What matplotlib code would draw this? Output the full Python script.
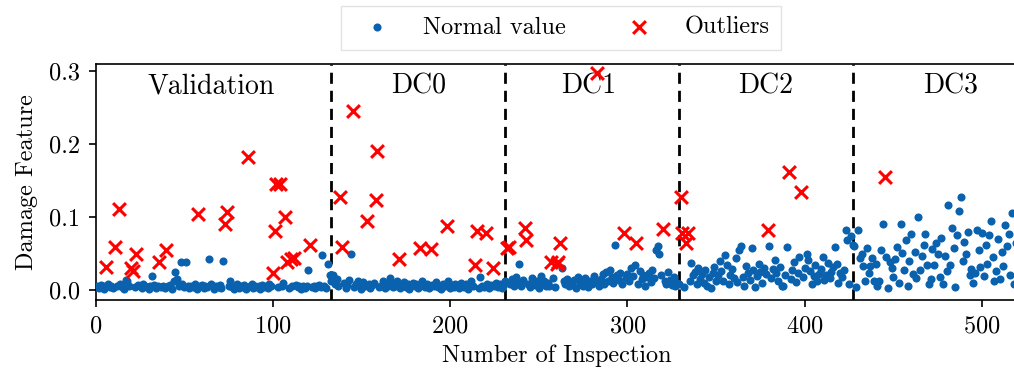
import matplotlib
matplotlib.use("Agg")
import matplotlib.pyplot as plt
import numpy as np

plt.rcParams["font.family"] = "serif"
plt.rcParams["font.serif"] = ["cmr10"]
plt.rcParams["mathtext.fontset"] = "cm"
plt.rcParams["axes.formatter.use_mathtext"] = True

# inspections 0..519, split into five damage cases
n_inspections = 520
case_bounds = [133, 231, 329, 427]
case_names = ["Validation", "DC0", "DC1", "DC2", "DC3"]
case_label_x = [65, 182, 278, 378, 482]

# flagged inspections
outlier_x = [6, 11, 13, 20, 21, 23, 36, 40, 58, 73, 74, 86, 100, 101, 102, 104, 107, 108, 110, 112, 121,
             138, 139, 145, 153, 158, 159, 171, 183, 189, 198, 214, 215, 220, 224,
             232, 233, 242, 243, 257, 260, 261, 262, 283, 298, 305, 320,
             330, 331, 333, 334, 379, 391, 398,
             445]
outlier_y = [0.031, 0.059, 0.111, 0.030, 0.026, 0.049, 0.038, 0.055, 0.104, 0.090, 0.107, 0.183, 0.023,
             0.081, 0.146, 0.146, 0.100, 0.038, 0.042, 0.044, 0.062,
             0.127, 0.059, 0.246, 0.095, 0.124, 0.191, 0.042, 0.058, 0.056, 0.088, 0.034, 0.081, 0.078, 0.030,
             0.057, 0.059, 0.085, 0.069, 0.039, 0.036, 0.039, 0.064, 0.297, 0.078, 0.064, 0.084,
             0.128, 0.078, 0.064, 0.078, 0.083, 0.162, 0.135,
             0.155]

# damage feature of the remaining inspections, in order
validation_vals = [
    .004, .006, .003, .007, .005, .002, .008, .004, .006, .003,
    .005, .009, .004, .002, .014, .012, .006, .004, .007, .005,
    .003, .008, .006, .004, .002, .005, .019, .007, .003, .006,
    .004, .006, .003, .005, .007, .002, .012, .025, .015, .006,
    .039, .008, .004, .039, .005, .003, .006, .004, .009, .002,
    .005, .007, .003, .006, .004, .043, .008, .005, .002, .006,
    .004, .007, .003, .040, .006, .012, .004, .002, .005, .008,
    .003, .006, .004, .007, .002, .005, .009, .003, .006, .004,
    .005, .002, .007, .004, .006, .003, .008, .005, .004, .006,
    .010, .003, .005, .007, .004, .006, .002, .005, .003, .006,
    .028, .004, .006, .003, .005, .007, .004, .048, .006, .003,
    .036, .020]
dc0_vals = [
    .012, .020, .008, .015, .005, .010, .003, .007, .014, .050,
    .004, .009, .013, .006, .002, .011, .005, .008, .003, .007,
    .010, .004, .006, .012, .003, .008, .005, .017, .009, .004,
    .006, .013, .003, .007, .011, .004, .009, .002, .006, .010,
    .005, .008, .003, .012, .006, .004, .009, .003, .007, .005,
    .011, .004, .006, .002, .008, .005, .013, .003, .007, .004,
    .009, .005, .003, .010, .006, .004, .008, .002, .007, .012,
    .005, .003, .018, .006, .004, .009, .003, .007, .005, .010,
    .004, .008, .003, .006]
dc1_vals = [
    .012, .008, .015, .005, .018, .010, .036, .006, .014, .009,
    .004, .016, .011, .007, .013, .003, .019, .008, .012, .005,
    .010, .006, .017, .004, .030, .012, .008, .015, .005, .011,
    .007, .014, .003, .018, .009, .012, .006, .016, .010, .004,
    .013, .008, .019, .011, .006, .015, .022, .009, .025, .012,
    .027, .018, .010, .062, .020, .014, .024, .008, .016, .022,
    .012, .030, .019, .034, .009, .026, .015, .021, .006, .018,
    .024, .011, .028, .016, .055, .060, .049, .020, .013, .008,
    .025, .014, .007, .018, .005, .010]
dc2_vals = [
    .009, .004, .012, .037, .020, .025, .008, .030, .015, .022,
    .010, .028, .005, .018, .003, .024, .032, .013, .020, .040,
    .026, .012, .048, .035, .009, .021, .029, .016, .044, .011,
    .055, .060, .018, .006, .033, .023, .014, .057, .027, .004,
    .019, .036, .025, .010, .030, .022, .061, .017, .029, .041,
    .024, .013, .032, .006, .005, .021, .059, .015, .027, .038,
    .011, .023, .046, .018, .030, .050, .041, .026, .008, .019,
    .034, .012, .022, .029, .045, .014, .020, .037, .016, .025,
    .031, .059, .036, .010, .023, .018, .027, .083, .068, .009,
    .074]
dc3_vals = [
    .062, .060, .004, .083, .044, .049, .033, .013, .057, .024,
    .033, .044, .012, .036, .005, .013, .055, .091, .046, .003,
    .038, .030, .018, .042, .059, .010, .090, .051, .027, .068,
    .005, .040, .077, .022, .052, .016, .100, .028, .047, .062,
    .077, .034, .009, .015, .056, .035, .064, .049, .018, .072,
    .008, .047, .026, .117, .034, .085, .057, .004, .075, .109,
    .128, .040, .066, .049, .080, .020, .029, .010, .024, .082,
    .055, .031, .078, .019, .062, .036, .076, .094, .045, .013,
    .026, .070, .015, .052, .033, .089, .060, .077, .021, .105,
    .009, .065]

normal_y = validation_vals + dc0_vals + dc1_vals + dc2_vals + dc3_vals
flagged = set(outlier_x)
normal_x = [i for i in range(n_inspections) if i not in flagged]

fig = plt.figure(figsize=(10.14, 3.77), dpi=100)
ax = fig.add_axes([0.0942, 0.204, 0.9093, 0.626])

ax.scatter(normal_x, normal_y, s=34, color="#0a62ae", label="Normal value", zorder=3, linewidths=0)
ax.scatter(outlier_x, outlier_y, s=85, marker="x", color="red", linewidths=2.2,
           label="Outliers", zorder=4)

for b in case_bounds:
    ax.axvline(b, color="black", linestyle=(0, (4, 2.5)), linewidth=2, zorder=2)

for name, xc in zip(case_names, case_label_x):
    ax.text(xc, 0.279, name, ha="center", va="center", fontsize=20)

ax.set_xlim(0, 520)
ax.set_ylim(-0.0137, 0.3096)
ax.set_xticks([0, 100, 200, 300, 400, 500])
ax.set_yticks([0.0, 0.1, 0.2, 0.3])
ax.yaxis.set_major_formatter(matplotlib.ticker.FormatStrFormatter("%.1f"))
ax.tick_params(labelsize=17.5, length=5, width=1.2, pad=6)
ax.set_xlabel("Number of Inspection", fontsize=17.5, labelpad=5)
ax.set_ylabel("Damage Feature", fontsize=17.5, labelpad=8)
for sp in ax.spines.values():
    sp.set_linewidth(1.2)

leg = ax.legend(loc="lower center", bbox_to_anchor=(0.505, 1.01), ncol=2, fontsize=17.5,
                frameon=True, fancybox=False, edgecolor="#dddddd",
                handletextpad=0.9, columnspacing=2.0, borderpad=0.45)
leg.get_frame().set_linewidth(1.0)

fig.savefig("out.png", dpi=100)
